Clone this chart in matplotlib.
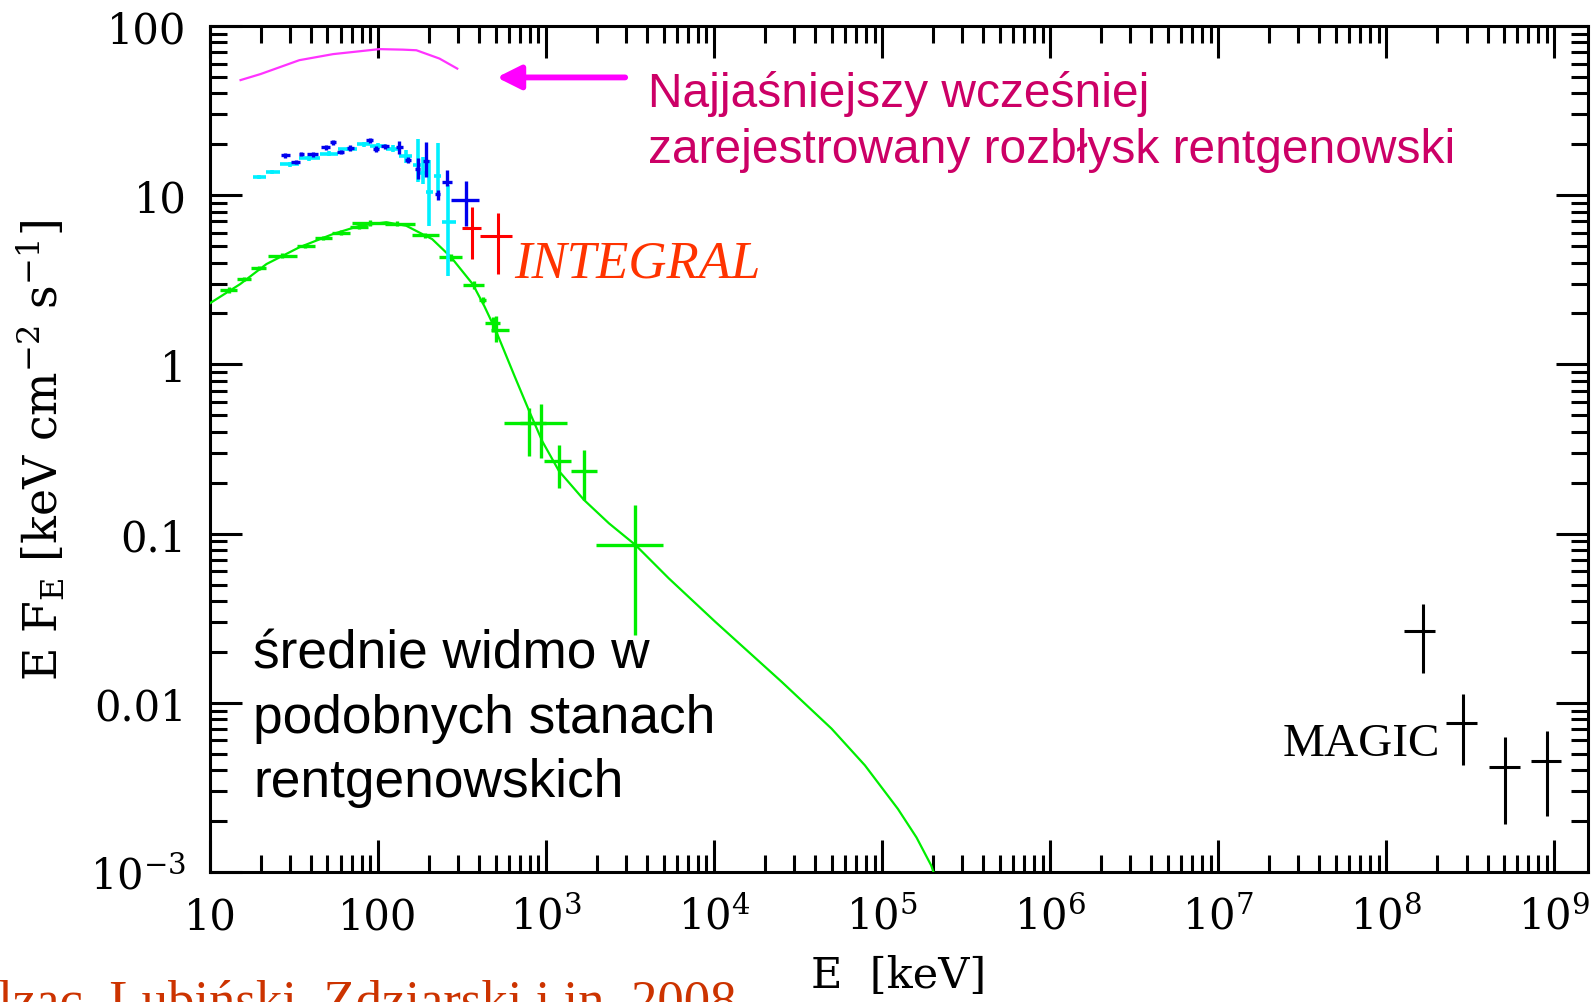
import numpy as np
import matplotlib.pyplot as plt

plt.rcParams['font.family'] = ['DejaVu Serif']
plt.rcParams['mathtext.fontset'] = 'dejavuserif'

# najjaśniejszy wcześniej zarejestrowany rozbłysk (krzywa)
bright_E = [15.2, 20, 34, 54, 102, 140, 169, 232, 296]
bright_F = [47.9, 52, 62.8, 68.2, 73, 72.5, 71.9, 64.2, 56]

# model - średnie widmo
model_E = [10, 15.1, 21.7, 34, 54, 78, 112, 147, 210, 272, 366, 430, 503, 650, 793, 951,
           1194, 1682, 2366, 3400, 5370, 10160, 25230, 50000, 78900, 124000, 160000, 196000, 240000]
model_F = [2.3, 2.98, 3.92, 4.92, 5.9, 6.6, 6.92, 6.6, 5.5, 4.3, 2.98, 2.2, 1.58, 0.85, 0.53, 0.35,
           0.234, 0.158, 0.115, 0.0857, 0.0544, 0.0301, 0.0133, 0.00703, 0.00427, 0.00236, 0.0016, 0.00109, 0.0006]

# dane - średnie widmo (zielone)
green_E = [13, 16, 19.5, 27, 37, 47, 60, 77, 90, 130, 190, 270, 370, 420, 480, 500, 790, 930, 1195, 1680, 3400]
green_Elo = [11.5, 14.5, 17.5, 22, 33, 42, 53, 68, 70, 110, 160, 230, 320, 400, 430, 470, 560, 700, 975, 1400, 1970]
green_Ehi = [14.5, 17.5, 21.5, 33, 42, 53, 68, 87, 115, 165, 230, 315, 425, 440, 530, 600, 1000, 1340, 1400, 2020, 4950]
green_F = [2.75, 3.2, 3.7, 4.4, 5.0, 5.6, 6.0, 6.5, 6.85, 6.8, 5.8, 4.3, 2.95, 2.4, 1.75, 1.6, 0.45, 0.45, 0.267, 0.233, 0.086]
green_Flo = [2.65, 3.1, 3.6, 4.25, 4.85, 5.45, 5.8, 6.3, 6.6, 6.55, 5.6, 4.1, 2.8, 2.3, 1.55, 1.35, 0.286, 0.28, 0.186, 0.158, 0.0251]
green_Fhi = [2.85, 3.3, 3.8, 4.55, 5.15, 5.75, 6.2, 6.7, 7.1, 7.05, 6.0, 4.5, 3.1, 2.5, 1.9, 1.94, 0.555, 0.585, 0.336, 0.313, 0.148]

# rozbłysk - dane jasnoniebieskie
cyan_E = [19.5, 23.5, 30, 39, 51, 66, 82, 100, 123, 147, 172, 185, 202, 226, 260]
cyan_Elo = [18, 21.5, 26, 34, 45, 58, 75, 89, 112, 134, 162, 178, 192, 214, 240]
cyan_Ehi = [21.5, 26, 34, 45, 58, 75, 89, 112, 134, 160, 180, 192, 212, 238, 290]
cyan_F = [12.8, 13.7, 15.2, 16.5, 17.6, 18.8, 20.0, 19.5, 18.8, 17.0, 15.0, 13.5, 10.5, 13.0, 6.9]
cyan_Flo = [12.4, 13.3, 14.7, 16.0, 17.0, 18.2, 19.3, 18.7, 17.9, 15.5, 11.9, 11.7, 6.6, 10.1, 3.34]
cyan_Fhi = [13.2, 14.1, 15.7, 17.0, 18.2, 19.4, 20.7, 20.3, 19.7, 18.5, 21.6, 16.8, 16.2, 20.3, 11.5]

# rozbłysk - dane ciemnoniebieskie
blue_E = [28, 32.5, 35, 41, 49, 54, 60, 68, 89, 97, 110, 134, 150, 172, 194, 226, 257, 333]
blue_Elo = [26.5, 30.5, 34, 38, 46, 52, 57, 65, 85, 93, 104, 128, 144, 166, 186, 218, 240, 272]
blue_Ehi = [30, 34.5, 36.5, 44, 52, 56, 63, 72, 93, 101, 116, 140, 156, 178, 202, 234, 275, 400]
blue_F = [17.2, 15.7, 17.6, 17.4, 19.2, 20.5, 18.0, 19.0, 21.1, 18.8, 19.5, 19.3, 16.2, 14.3, 16.0, 10.1, 11.9, 9.4]
blue_Flo = [16.7, 15.2, 17.1, 16.9, 18.6, 19.9, 17.4, 18.3, 20.4, 18.1, 18.8, 17.6, 15.6, 12.5, 12.8, 9.4, 11.3, 6.6]
blue_Fhi = [17.7, 16.2, 18.1, 17.9, 19.8, 21.1, 18.6, 19.7, 21.8, 19.5, 20.2, 21.0, 16.8, 16.5, 20.5, 10.8, 14.0, 12.2]

# INTEGRAL
red_E = [362, 514]
red_Elo = [318, 406]
red_Ehi = [409, 631]
red_F = [6.4, 5.77]
red_Flo = [4.19, 3.42]
red_Fhi = [8.5, 7.9]

# MAGIC
magic_E = [1.65e8, 2.84e8, 5.07e8, 9.06e8]
magic_Elo = [1.28e8, 2.28e8, 4.09e8, 7.3e8]
magic_Ehi = [1.95e8, 3.48e8, 6.22e8, 1.1e9]
magic_F = [0.0267, 0.00764, 0.00417, 0.00451]
magic_Flo = [0.0149, 0.00431, 0.00192, 0.00214]
magic_Fhi = [0.0382, 0.0112, 0.00628, 0.00678]

x_ticks = [10, 100, 1e3, 1e4, 1e5, 1e6, 1e7, 1e8, 1e9]
x_labels = ['10', '100', '10$^3$', '10$^4$', '10$^5$', '10$^6$', '10$^7$', '10$^8$', '10$^9$']
y_ticks = [1e-3, 0.01, 0.1, 1, 10, 100]
y_labels = ['10$^{-3}$', '0.01', '0.1', '1', '10', '100']


def crosses(ax, E, Elo, Ehi, F, Flo, Fhi, color, lw, z):
    E, Elo, Ehi = np.array(E), np.array(Elo), np.array(Ehi)
    F, Flo, Fhi = np.array(F), np.array(Flo), np.array(Fhi)
    ax.errorbar(E, F, xerr=[E - Elo, Ehi - E], yerr=[F - Flo, Fhi - F],
                fmt='none', ecolor=color, elinewidth=lw, capsize=0, zorder=z)


fig = plt.figure(figsize=(15.96, 10.03), dpi=100)
ax = fig.add_axes([210 / 1596, 1 - 873 / 1003, 1378 / 1596, 846 / 1003])
ax.set_xscale('log')
ax.set_yscale('log')

ax.plot(bright_E, bright_F, color='#FF33FF', lw=1.6, zorder=3)
ax.plot(model_E, model_F, color='#00EE00', lw=1.6, zorder=3)
crosses(ax, green_E, green_Elo, green_Ehi, green_F, green_Flo, green_Fhi, '#00EE00', 2.4, 4)
crosses(ax, cyan_E, cyan_Elo, cyan_Ehi, cyan_F, cyan_Flo, cyan_Fhi, '#00F0FF', 2.6, 5)
crosses(ax, blue_E, blue_Elo, blue_Ehi, blue_F, blue_Flo, blue_Fhi, '#0000EE', 2.4, 6)
crosses(ax, red_E, red_Elo, red_Ehi, red_F, red_Flo, red_Fhi, '#FF0000', 2.2, 6)
crosses(ax, magic_E, magic_Elo, magic_Ehi, magic_F, magic_Flo, magic_Fhi, 'black', 2.2, 6)

ax.set_xlim(10, 10 ** 9.2)
ax.set_ylim(1e-3, 100)
ax.set_xticks(x_ticks)
ax.set_xticklabels(x_labels)
ax.set_yticks(y_ticks)
ax.set_yticklabels(y_labels)
ax.xaxis.set_minor_formatter(plt.NullFormatter())
ax.yaxis.set_minor_formatter(plt.NullFormatter())
ax.tick_params(which='both', direction='in', top=True, right=True, width=2.2, labelsize=30, pad=17)
ax.tick_params(which='major', length=23)
ax.tick_params(which='minor', length=12)
for s in ax.spines.values():
    s.set_linewidth(2.2)

ax.set_xlabel('E  [keV]', fontsize=31)
ax.xaxis.set_label_coords(0.5, -0.097)
ax.xaxis.label.set_va('top')
ax.set_ylabel(r'E F$_{\mathrm{E}}$ [keV cm$^{-2}$ s$^{-1}$]', fontsize=33)
ax.yaxis.set_label_coords(-0.1226, 0.5)
ax.yaxis.label.set_va('center')

# strzałka i opisy
ax.annotate('', xy=(0.2061, 0.9392), xytext=(0.3033, 0.9392), xycoords='axes fraction',
            arrowprops=dict(arrowstyle='-|>', color='#FF00FF', lw=4.2, mutation_scale=36))

W, H = 1596, 1003
sans = 'Liberation Sans'
serif = 'Liberation Serif'
fig.text(648 / W, 1 - 107 / H, 'Najjaśniejszy wcześniej', family=sans, fontsize=34.5, color='#CC0066')
fig.text(648 / W, 1 - 163 / H, 'zarejestrowany rozbłysk rentgenowski', family=sans, fontsize=34.5, color='#CC0066')
fig.text(514 / W, 1 - 277 / H, 'INTEGRAL', family=serif, style='italic', fontsize=38, color='#FF3300')
fig.text(253 / W, 1 - 669 / H, 'średnie widmo w', family=sans, fontsize=38.3, color='black')
fig.text(253 / W, 1 - 733 / H, 'podobnych stanach', family=sans, fontsize=38.3, color='black')
fig.text(253 / W, 1 - 797 / H, 'rentgenowskich', family=sans, fontsize=38.3, color='black')
fig.text(1283 / W, 1 - 756 / H, 'MAGIC', family=serif, fontsize=34, color='black')
fig.text(737 / W, 1 - 1016 / H, 'Malzac, Lubiński, Zdziarski i in. 2008', family=serif, fontsize=38,
         color='#CC3300', ha='right')

fig.savefig('out.png', dpi=100)
